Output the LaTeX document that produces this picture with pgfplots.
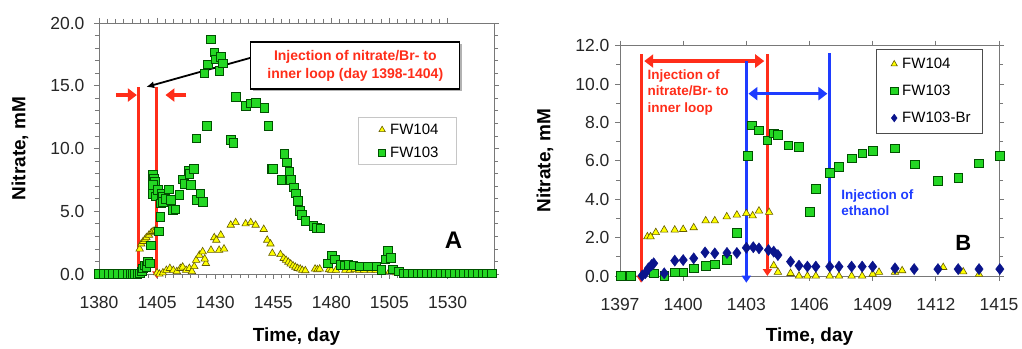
\documentclass[border=0pt]{standalone}
\usepackage{fontspec}
\setmainfont{Liberation Sans}
\usepackage{pgfplots}
\pgfplotsset{compat=1.18}
\usetikzlibrary{arrows.meta,shadows}
\definecolor{myred}{RGB}{255,45,25}
\definecolor{myblue}{RGB}{30,60,255}
\definecolor{mygreen}{RGB}{35,215,35}
\definecolor{mygreenedge}{RGB}{0,80,0}
\definecolor{myyellow}{RGB}{255,255,0}
\definecolor{myyellowedge}{RGB}{100,90,0}
\definecolor{mynavy}{RGB}{10,20,140}
\definecolor{axgray}{RGB}{120,120,120}
\pgfplotsset{
 common/.style={
  scale only axis, clip=false,
  axis line style={axgray, line width=0.8pt},
  tick style={axgray, line width=0.8pt},
  tick align=outside,
  major tick length=5pt, minor tick length=4pt,
  /pgf/number format/assume math mode=true,
  tick label style={font=\fontsize{17.5}{19}\selectfont, text=black!85},
  xticklabel style={/pgf/number format/set thousands separator={}, yshift=-14pt},
  yticklabel style={/pgf/number format/fixed, /pgf/number format/fixed zerofill, /pgf/number format/precision=1},
  label style={font=\fontsize{19}{21}\selectfont\bfseries},
  legend cell align=left,
 },
 fwA/.style={only marks, mark=triangle*, mark size=4.3pt, mark options={fill=myyellow, draw=myyellowedge, line width=0.6pt}},
 fwB/.style={only marks, mark=square*, mark size=4.3pt, mark options={fill=mygreen, draw=mygreenedge, line width=0.6pt}},
 fwC/.style={only marks, mark=diamond*, mark size=5.6pt, mark options={fill=mynavy, draw=mynavy}},
}
\begin{document}
\begin{tikzpicture}
\useasboundingbox (0,0) rectangle (1022pt,348pt);
% ---------------- Panel A ----------------
\begin{axis}[common,
  at={(99pt,74pt)}, anchor=south west, width=395pt, height=251pt,
  xmin=1380, xmax=1550, ymin=0, ymax=20,
  xtick={1380,1405,...,1530}, ytick={0,5,...,20},
  minor x tick num=6, minor y tick num=4,
  yticklabel style={xshift=-6pt},
  xlabel={Time, day}, ylabel={Nitrate, mM},
  xlabel style={at={(axis description cs:0.5,-0.251)}, anchor=center},
  ylabel style={at={(axis description cs:-0.2,0.5)}, anchor=center},
  legend style={at={(0.655,0.624)}, anchor=north west, draw=gray!45, line width=0.8pt,
    font=\fontsize{15}{17}\selectfont, row sep=7pt, inner xsep=2pt, inner ysep=4pt},
  legend image code/.code={\path[draw=none] (-22pt,0pt) -- (6pt,0pt); \draw[#1,only marks,mark size=3.6pt] plot coordinates {(0pt,0pt)};},
]
\addplot[fwA] coordinates {
(1397.5,2.0)(1398.2,2.4)(1399,2.6)(1399.8,2.75)(1400.4,2.9)(1401.5,3.1)(1402.5,3.3)(1403.3,3.4)(1404.3,3.5)
(1405,0.1)(1406,0)(1407.5,0.1)(1409,0.3)(1410.5,0.45)(1412,0.3)(1413.5,0.2)(1415,0.45)(1416,0.56)
(1417.5,0.3)(1418.9,0.45)(1420,0.2)(1421,0.6)(1421.8,1.1)(1423.2,1.5)(1424.6,1.78)(1426,0.85)(1425.5,1.2)
(1428.2,1.9)(1429.6,2.9)(1430.5,2.7)(1432.4,3.1)(1431.7,1.9)(1433.8,2.0)(1436.7,3.9)(1438.8,4.1)
(1443.1,4.0)(1445.3,4.1)(1447.4,3.9)(1450.9,3.56)(1452.4,2.7)(1453.8,2.4)(1454.6,1.65)(1458.1,1.55)
(1459.5,1.25)(1460.5,1.1)(1461.5,0.95)(1462.5,0.8)(1463.5,0.66)(1464.5,0.55)(1465.5,0.45)(1466.6,0.4)
(1467.5,0.3)(1468.8,0.27)(1473,0.4)(1474,0.35)(1475,0.4)(1479,0.35)(1480,0.3)(1482,0.3)(1486,0.3)
(1488,0.3)(1490,0.35)(1492,0.3)(1494,0.3)(1497,0.3)(1499,0.3)(1502,0.2)(1505,0.2)(1508,0.1)
};
\addlegendentry{FW104\hspace*{14pt}}
\addplot[fwB] coordinates {
(1380,0)(1382,0)(1384,0)(1386,0)(1388,0)(1390,0)(1392.5,0)(1393.5,0)(1394.5,0)(1395.5,0)(1396.5,0)
(1397.5,0.05)(1398.4,0.2)(1398.9,0.45)(1399.8,0.7)(1400.4,0.58)(1401.0,1.0)(1401.8,0.85)(1402.2,2.3)
(1402.9,6.37)(1403.2,7.9)(1403.5,7.6)(1403.9,7.35)(1403.2,7.1)(1404.5,6.2)(1405.3,6.7)(1405.8,3.4)
(1406.3,4.57)(1406.5,5.63)(1406.8,6.4)(1407.5,6.16)(1407.5,5.76)(1408.5,6.0)(1410,6.75)(1411,5.9)
(1411.8,5.1)(1412.9,5.15)(1414.6,6.3)(1416,7.55)(1416.7,7.2)(1418.6,8.23)(1418.9,8.0)(1419.6,7.1)
(1420.7,8.36)(1421.8,10.8)(1422.2,5.9)(1423.6,6.43)(1424.6,5.76)(1425.3,16.0)(1426.3,11.8)(1426.7,16.7)
(1428.2,18.7)(1429.6,17.66)(1430.3,17.1)(1431.7,16.2)(1432.4,17.3)(1433.4,16.8)(1436.7,10.7)(1437.8,10.46)
(1438.8,14.13)(1443.1,13.4)(1445.3,13.6)(1447.4,13.65)(1451.2,13.25)(1452.8,11.8)(1454.1,8.4)(1454.9,8.4)
(1458.5,7.5)(1459.8,9.56)(1460.9,8.9)(1461.9,8.15)(1462.6,7.5)(1463.8,6.9)(1464.7,6.43)(1465.6,5.84)
(1466.3,5.05)(1467.3,4.7)(1468.8,4.25)(1472.3,3.82)(1473.7,3.7)(1475.2,3.64)(1478.4,0.85)(1480.1,1.5)
(1481.6,1.17)(1484,0.75)(1485.8,0.7)(1487.3,0.72)(1489.4,0.68)(1492.3,0.6)(1495.8,0.6)(1499.4,0.6)
(1501.5,0.32)(1503.2,1.17)(1504.4,1.86)(1505.5,1.3)(1506.5,0.37)(1508.9,0.2)(1511,0.05)(1513,0.05)
(1515,0.05)(1517,0.05)(1519,0.05)(1521,0.05)(1523,0.05)(1525,0.05)(1527,0.05)(1529,0.05)(1531,0.05)
(1533,0.05)(1535,0.05)(1537,0.05)(1539,0.05)(1541,0.05)(1543,0.05)(1545,0.05)(1547,0.05)(1549,0.05)
};
\addlegendentry{FW103\hspace*{14pt}}
% annotations
\draw[myred, line width=3pt, -{Triangle[length=7pt,width=9pt]}] (axis cs:1397.2,14.9) -- (axis cs:1397.2,-0.35);
\draw[myred, line width=3pt, -{Triangle[length=7pt,width=9pt]}] (axis cs:1404.9,14.9) -- (axis cs:1404.9,-0.35);
\draw[myred, line width=4pt, -{Triangle[length=9pt,width=13pt]}] (axis cs:1387.3,14.26) -- (axis cs:1396.3,14.26);
\draw[myred, line width=4pt, -{Triangle[length=9pt,width=13pt]}] (axis cs:1417.6,14.26) -- (axis cs:1408.6,14.26);
\draw[black, line width=1.8pt, -{Latex[length=8pt,width=7pt]}] (axis cs:1445.5,17.24) -- (axis cs:1400.3,14.9);
\node[draw=black, line width=1.4pt, fill=white, drop shadow={shadow xshift=2pt, shadow yshift=-2pt, fill=black!60},
  minimum width=209pt, minimum height=47pt, align=center, text=myred,
  font=\fontsize{14}{17.6}\selectfont\bfseries] at (axis cs:1490.3,16.6)
  {Injection of nitrate/Br- to\\inner loop (day 1398-1404)};
\node[font=\fontsize{24}{26}\selectfont\bfseries] at (axis cs:1532.6,2.7) {A};
\end{axis}
% ---------------- Panel B ----------------
\begin{axis}[common,
  at={(620pt,72pt)}, anchor=south west, width=379pt, height=230.3pt,
  xmin=1397, xmax=1415, ymin=0, ymax=12,
  xtick={1397,1400,...,1415}, ytick={0,2,...,12},
  minor x tick num=2, minor y tick num=1,
  yticklabel style={xshift=-2pt},
  xlabel={Time, day}, ylabel={Nitrate, mM},
  xlabel style={at={(axis description cs:0.5,-0.265)}, anchor=center},
  ylabel style={at={(axis description cs:-0.198,0.5)}, anchor=center},
  legend style={at={(0.675,0.987)}, anchor=north west, draw=black!70, line width=0.8pt,
    font=\fontsize{15}{17}\selectfont, row sep=11pt, inner xsep=2pt, inner ysep=7pt},
  legend image code/.code={\path[draw=none] (-16pt,0pt) -- (6pt,0pt); \draw[#1,only marks,mark size=3.6pt] plot coordinates {(0pt,0pt)};},
]
\addplot[fwA] coordinates {
(1398.3,2.05)(1398.45,2.05)(1398.7,2.27)(1399.1,2.4)(1399.6,2.4)(1400.0,2.43)(1400.5,2.52)(1401.07,2.88)
(1401.5,2.88)(1402.07,3.09)(1402.55,3.18)(1403.0,3.26)(1403.3,3.14)(1403.6,3.39)(1404.08,3.32)(1404.3,0.54)
(1404.5,0.2)(1405.1,0.14)(1405.5,0.0)(1405.9,0.0)(1406.3,0.0)(1406.96,0.0)(1407.4,0.0)(1408.0,0.0)
(1408.5,0.0)(1409.0,0.1)(1409.3,0.2)(1410.06,0.2)(1410.4,0.28)(1412.35,0.45)(1413.3,0.22)(1414.05,0.09)
};
\addlegendentry{FW104}
\addplot[fwB] coordinates {
(1397.05,0)(1397.5,0)(1398.6,0.14)(1399.1,0)(1399.6,0.2)(1400.0,0.2)(1400.5,0.4)(1401.07,0.52)
(1401.5,0.6)(1402.08,0.83)(1402.55,2.25)(1403.06,6.25)(1403.27,7.86)(1403.6,7.6)(1404.0,7.08)(1404.3,7.43)
(1404.5,7.37)(1405.0,6.82)(1405.5,6.74)(1406.0,3.35)(1406.3,4.53)(1406.96,5.38)(1407.4,5.7)(1408.0,6.13)
(1408.5,6.39)(1409.0,6.53)(1410.06,6.65)(1411.0,5.83)(1412.08,4.97)(1413.06,5.12)(1414.05,5.87)(1415.04,6.27)
};
\addlegendentry{FW103}
\addplot[fwC] coordinates {
(1398.05,0.02)(1398.2,0.14)(1398.35,0.4)(1398.5,0.57)(1398.6,0.66)(1399.1,0.14)(1399.6,0.8)(1400.0,0.83)
(1400.5,0.92)(1401.04,1.23)(1401.5,1.18)(1402.08,1.2)(1402.55,1.2)(1403.0,1.47)(1403.33,1.5)(1403.6,1.44)
(1404.05,1.35)(1404.3,1.27)(1404.5,1.09)(1405.1,0.75)(1405.5,0.54)(1405.9,0.49)(1406.3,0.49)(1406.96,0.49)
(1407.4,0.49)(1408.0,0.49)(1408.5,0.49)(1409.0,0.49)(1410.06,0.4)(1410.97,0.36)(1412.1,0.36)(1413.06,0.36)
(1414.05,0.36)(1415.04,0.36)
};
\addlegendentry{FW103-Br\hspace*{8pt}}
% annotations
\draw[myred, line width=3pt, -{Triangle[length=7pt,width=9pt]}] (axis cs:1398.0,11.56) -- (axis cs:1398.0,-0.35);
\draw[myred, line width=3pt, -{Triangle[length=7pt,width=9pt]}] (axis cs:1404.0,11.56) -- (axis cs:1404.0,0.0);
\draw[myred, line width=3.5pt, {Triangle[length=9pt,width=13pt]}-{Triangle[length=9pt,width=13pt]}] (axis cs:1398.15,11.2) -- (axis cs:1403.85,11.2);
\draw[myblue, line width=3pt, -{Triangle[length=7pt,width=9pt]}] (axis cs:1403.0,11.2) -- (axis cs:1403.0,-0.35);
\draw[myblue, line width=3pt] (axis cs:1406.96,11.6) -- (axis cs:1406.96,0.45);
\draw[myblue, line width=3.5pt, {Triangle[length=9pt,width=13pt]}-{Triangle[length=9pt,width=13pt]}] (axis cs:1403.1,9.5) -- (axis cs:1406.85,9.5);
\node[anchor=north west, align=left, text=myred, inner sep=0pt,
  font=\fontsize{13.5}{16.3}\selectfont\bfseries] at (axis cs:1398.3,10.75)
  {Injection of\\nitrate/Br- to\\inner loop};
\node[anchor=north west, align=left, text=myblue, inner sep=0pt,
  font=\fontsize{13.5}{16.3}\selectfont\bfseries] at (axis cs:1407.5,4.5)
  {Injection of\\ethanol};
\node[font=\fontsize{22}{24}\selectfont\bfseries] at (axis cs:1413.3,1.7) {B};
\end{axis}
\end{tikzpicture}
\end{document}
